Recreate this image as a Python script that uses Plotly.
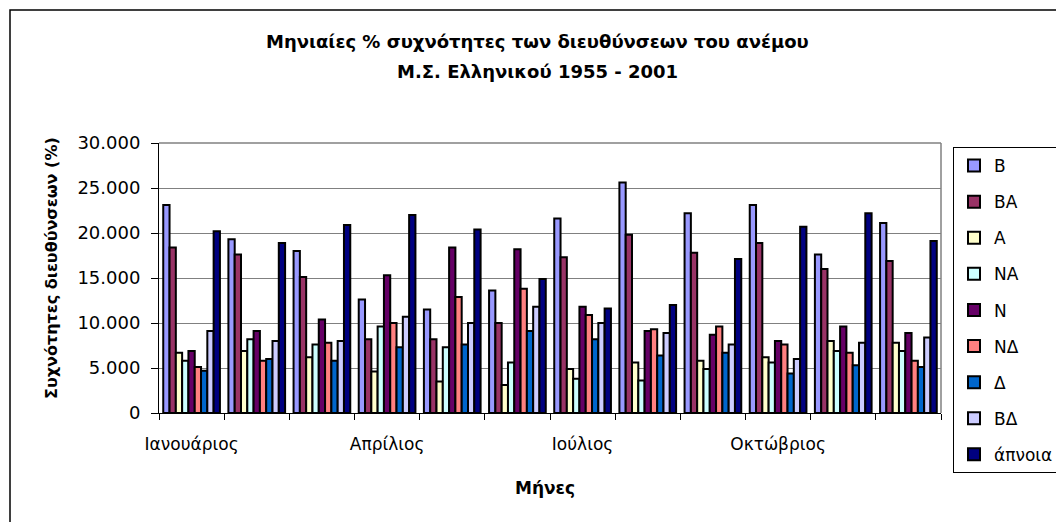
import plotly.graph_objects as go

months = ['Ιανουάριος', 'Φεβρουάριος', 'Μάρτιος', 'Απρίλιος', 'Μάιος', 'Ιούνιος',
          'Ιούλιος', 'Αύγουστος', 'Σεπτέμβριος', 'Οκτώβριος', 'Νοέμβριος', 'Δεκέμβριος']
month_labels = ['Ιανουάριος', '', '', 'Απρίλιος', '', '', 'Ιούλιος', '', '', 'Οκτώβριος', '', '']

y_tickvals = [0, 5, 10, 15, 20, 25, 30]
y_ticktext = ['0', '5.000', '10.000', '15.000', '20.000', '25.000', '30.000']

B = [23.1, 19.3, 18.0, 12.6, 11.5, 13.6, 21.6, 25.6, 22.2, 23.1, 17.6, 21.1]
BA = [18.4, 17.6, 15.1, 8.2, 8.2, 10.0, 17.3, 19.8, 17.8, 18.9, 16.0, 16.9]
A = [6.7, 6.9, 6.2, 4.6, 3.5, 3.1, 4.9, 5.6, 5.8, 6.2, 8.0, 7.8]
NA = [5.8, 8.2, 7.6, 9.6, 7.3, 5.6, 3.8, 3.6, 4.9, 5.6, 6.9, 6.9]
N = [6.9, 9.1, 10.4, 15.3, 18.4, 18.2, 11.8, 9.1, 8.7, 8.0, 9.6, 8.9]
ND = [5.1, 5.8, 7.8, 10.0, 12.9, 13.8, 10.9, 9.3, 9.6, 7.6, 6.7, 5.8]
D = [4.7, 6.0, 5.8, 7.3, 7.6, 9.1, 8.2, 6.4, 6.7, 4.4, 5.3, 5.1]
BD = [9.1, 8.0, 8.0, 10.7, 10.0, 11.8, 10.0, 8.9, 7.6, 6.0, 7.8, 8.4]
calm = [20.2, 18.9, 20.9, 22.0, 20.4, 14.9, 11.6, 12.0, 17.1, 20.7, 22.2, 19.1]

series = [
    ('B', B, '#9999FF'),
    ('BA', BA, '#993366'),
    ('A', A, '#FFFFCC'),
    ('NA', NA, '#CCFFFF'),
    ('N', N, '#660066'),
    ('NΔ', ND, '#FF8080'),
    ('Δ', D, '#0066CC'),
    ('BΔ', BD, '#CCCCFF'),
    ('άπνοια', calm, '#000080'),
]

# the page body adds an 8px margin, so the figure is 8px smaller and
# page coordinates are converted with that offset
OFF = 8
FW, FH = 1064 - OFF, 522 - OFF
L, R, T, Bm = 159 - OFF, 941 - OFF, 143 - OFF, 413 - OFF
W, H = R - L, Bm - T


def px_x(x):
    return (x - OFF - L) / W


def px_y(y):
    return (Bm - (y - OFF)) / H


fig = go.Figure()
for name, vals, col in series:
    fig.add_trace(go.Bar(x=months, y=vals, name=name, legendgroup=name,
                         marker=dict(color=col, line=dict(color='black', width=2))))

font = 'DejaVu Sans, Arial, sans-serif'
fig.update_layout(
    width=FW, height=FH,
    margin=dict(l=L, r=FW - R, t=T, b=FH - Bm, autoexpand=False),
    paper_bgcolor='white', plot_bgcolor='white',
    barmode='group', bargap=0.13, bargroupgap=0,
    font=dict(family=font, size=17, color='black'),
    showlegend=True,
    legend=dict(x=px_x(953), y=px_y(147), xanchor='left', yanchor='top',
                bordercolor='black', borderwidth=1, bgcolor='white',
                font=dict(size=17), tracegroupgap=11, itemwidth=30, maxheight=420),
    xaxis=dict(type='category', tickvals=months, ticktext=month_labels,
               tickson='boundaries', ticks='outside', ticklen=6, tickcolor='black',
               showline=True, linecolor='black', linewidth=1, showgrid=False,
               tickangle=0, ticklabelstandoff=16, tickfont=dict(size=17)),
    yaxis=dict(range=[0, 30], tickvals=y_tickvals, ticktext=y_ticktext,
               ticks='outside', ticklen=7, tickcolor='black',
               showline=True, linecolor='black', linewidth=1,
               showgrid=True, gridcolor='#808080', gridwidth=1,
               zeroline=False, ticklabelstandoff=7, tickfont=dict(size=18)),
    annotations=[
        dict(text='<b>Μηνιαίες % συχνότητες των διευθύνσεων του ανέμου</b>',
             xref='paper', yref='paper', x=px_x(537), y=px_y(41), xanchor='center', yanchor='middle',
             showarrow=False, font=dict(size=18)),
        dict(text='<b>Μ.Σ. Ελληνικού 1955 - 2001</b>',
             xref='paper', yref='paper', x=px_x(537), y=px_y(72), xanchor='center', yanchor='middle',
             showarrow=False, font=dict(size=18)),
        dict(text='<b>Συχνότητες διευθύνσεων (%)</b>', textangle=-90,
             xref='paper', yref='paper', x=px_x(51), y=px_y(268), xanchor='center', yanchor='middle',
             showarrow=False, font=dict(size=16)),
        dict(text='<b>Μήνες</b>', xref='paper', yref='paper', x=px_x(545), y=px_y(488),
             xanchor='center', yanchor='middle', showarrow=False, font=dict(size=17)),
    ],
    shapes=[
        # outer chart border
        dict(type='rect', xref='paper', yref='paper', x0=px_x(10), x1=px_x(1080),
             y0=px_y(540), y1=px_y(10), line=dict(color='black', width=1.5), layer='below'),
        # plot area top and right border
        dict(type='line', xref='paper', yref='paper', x0=0, x1=1, y0=1, y1=1,
             line=dict(color='#808080', width=1.5), layer='below'),
        dict(type='line', xref='paper', yref='paper', x0=1, x1=1, y0=0, y1=1,
             line=dict(color='#808080', width=1.5), layer='below'),
    ],
)

fig.write_html('out.html')
